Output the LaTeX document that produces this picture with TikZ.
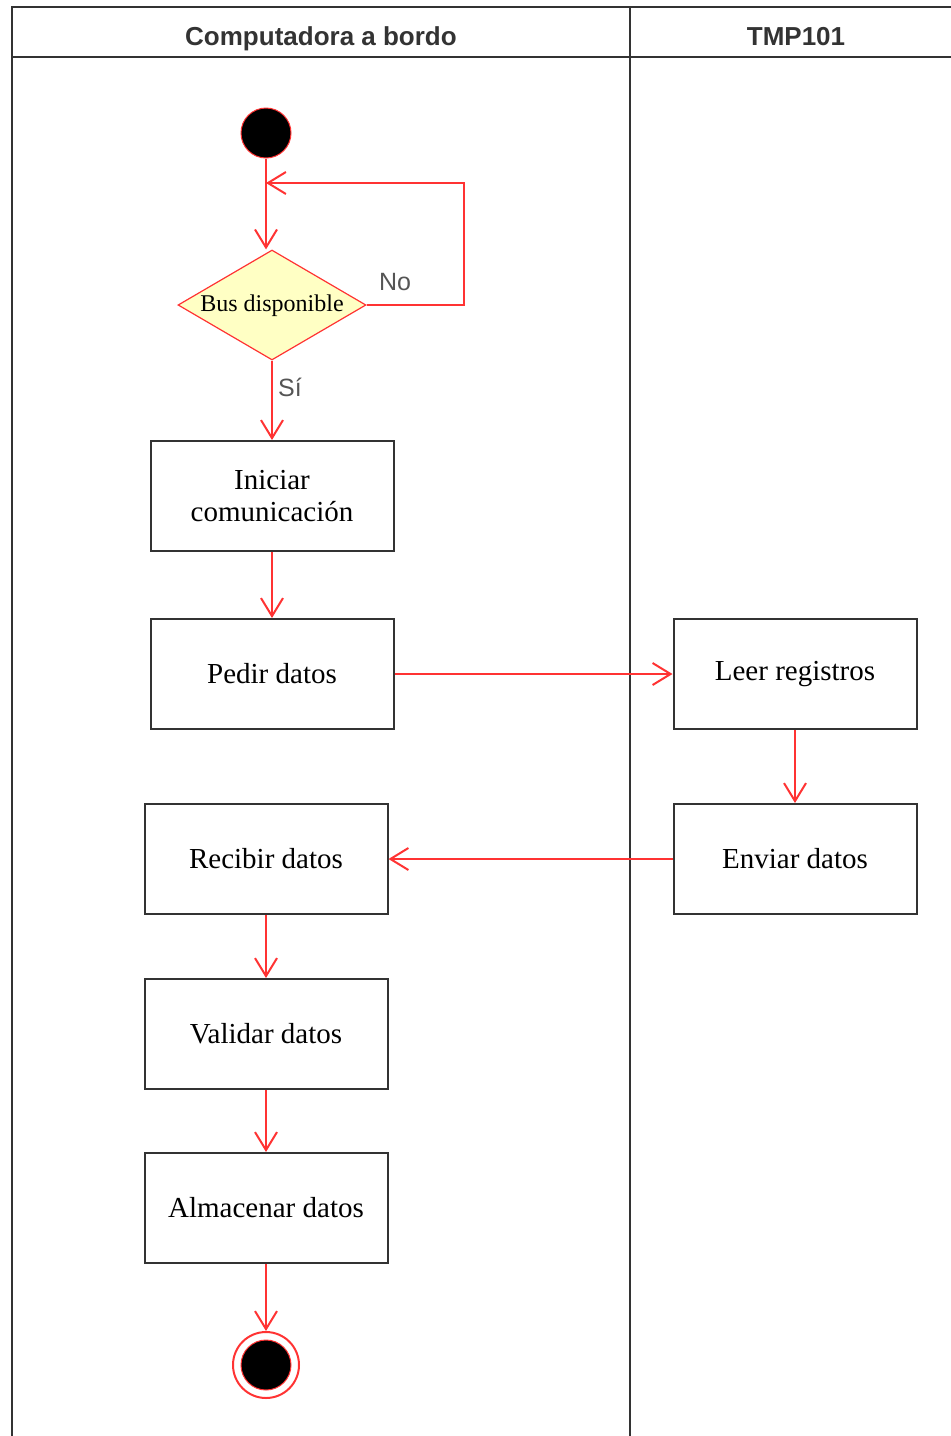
\documentclass[tikz,border=0pt]{standalone}
\usepackage{fontspec}
\setmainfont{Liberation Serif}
\newfontfamily\headfont{Liberation Sans}
\usetikzlibrary{shapes.geometric,arrows.meta}
\definecolor{flow}{HTML}{FF3333}
\definecolor{rule}{HTML}{333333}
\definecolor{guard}{HTML}{555555}
\definecolor{decfill}{HTML}{FFFFC4}
\begin{document}
\begin{tikzpicture}[x=1pt,y=-1pt,
  frame/.style={draw=rule,line width=2.2pt},
  actbox/.style={rectangle,draw=rule,line width=2pt,minimum width=243pt,minimum height=110pt,
    inner sep=0pt,align=center,font=\fontsize{29}{32}\selectfont},
  decbox/.style={diamond,draw=flow,line width=1.2pt,fill=decfill,minimum width=188pt,minimum height=110pt,inner sep=0pt},
  flowarrow/.style={draw=flow,line width=2pt,-{Straight Barb[length=18pt,width=22pt]}},
  guardtext/.style={text=guard,font=\headfont\fontsize{25}{28}\selectfont},
  headtext/.style={text=rule,font=\headfont\bfseries\fontsize{26}{30}\selectfont}]
\useasboundingbox (0,0) rectangle (951,1436);

% swimlane frame
\draw[frame] (12,1436) -- (12,7) -- (951,7);
\draw[frame] (12,57) -- (951,57);
\draw[frame] (630,7) -- (630,1436);
\node[headtext,anchor=base] (laneA) at (321,45) {Computadora a bordo};
\node[headtext,anchor=base] (laneB) at (796,45) {TMP101};

% start and decision
\node[circle,fill=black,draw=flow,line width=1pt,minimum size=50pt,inner sep=0pt] (start) at (266,133) {};
\node[decbox] (dec) at (272,305) {};
\node[font=\fontsize{24}{28}\selectfont] (dectext) at (272,306) {Bus disponible};

% activities
\node[actbox] (ini) at (272,496) {Iniciar\\comunicación};
\node[actbox] (pedir) at (272,674) {Pedir datos};
\node[actbox] (leer) at (795,674) {Leer registros};
\node[actbox] (enviar) at (795,859) {Enviar datos};
\node[actbox] (recibir) at (266,859) {Recibir datos};
\node[actbox] (validar) at (266,1034) {Validar datos};
\node[actbox] (almacenar) at (266,1208) {Almacenar datos};

% final node
\node[circle,draw=flow,line width=2pt,minimum size=66pt,inner sep=0pt] (final) at (266,1365) {};
\node[circle,fill=black,draw=flow,line width=1pt,minimum size=50pt,inner sep=0pt] (finalin) at (final) {};

% connectors
\coordinate (loopcorner) at (464,183);
\coordinate (join) at (266,183);
\draw[flowarrow] (start.south) -- (start.south |- dec.north);
\draw[flowarrow] (dec.east) -| (loopcorner) -- (join);
\node[guardtext] (no) at (395,282) {No};
\draw[flowarrow] (dec.south) -- (ini.north);
\node[guardtext] (si) at (290,387) {Sí};
\draw[flowarrow] (ini.south) -- (pedir.north);
\draw[flowarrow] (pedir.east) -- (leer.west);
\draw[flowarrow] (leer.south) -- (enviar.north);
\draw[flowarrow] (enviar.west) -- (recibir.east);
\draw[flowarrow] (recibir.south) -- (validar.north);
\draw[flowarrow] (validar.south) -- (almacenar.north);
\draw[flowarrow] (almacenar.south) -- (final.north);
\end{tikzpicture}
\end{document}
